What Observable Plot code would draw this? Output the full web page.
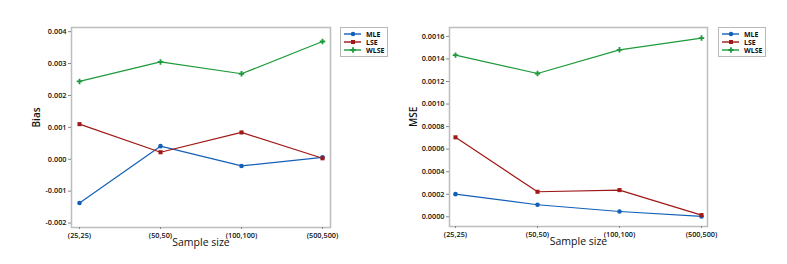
<!DOCTYPE html>
<html>
<head>
<meta charset="utf-8">
<script src="https://cdn.jsdelivr.net/npm/d3@7"></script>
<script src="https://cdn.jsdelivr.net/npm/@observablehq/plot@0.6"></script>
<style>
  html, body { margin: 0; padding: 0; background: #fff; }
  #wrap { position: relative; width: 787px; height: 264px; overflow: hidden; font-family: "Open Sans", "Noto Sans", sans-serif; }
  .panel { position: absolute; top: 0; }
  .legend { position: absolute; border: 1px solid #b8b8b8; background: #fff; }
</style>
</head>
<body>
<div id="wrap"></div>
<script>
const sizes = ["(25,25)", "(50,50)", "(100,100)", "(500,500)"];
const methods = ["MLE", "LSE", "WLSE"];
const colors = ["#1460b8", "#a01818", "#1d9a3a"];
const symbols = ["circle", "square", "cross"];

const biasMLE  = [-0.00137, 0.00041, -0.00021, 0.00006];
const biasLSE  = [0.00110, 0.00022, 0.00084, 0.00003];
const biasWLSE = [0.00244, 0.00305, 0.00268, 0.00369];

const mseMLE  = [0.000201, 0.000107, 0.000047, 0.000003];
const mseLSE  = [0.000705, 0.000222, 0.000237, 0.000015];
const mseWLSE = [0.001434, 0.001271, 0.001481, 0.001585];

const biasTicks = [-0.002, -0.001, 0, 0.001, 0.002, 0.003, 0.004];
const mseTicks = [0, 0.0002, 0.0004, 0.0006, 0.0008, 0.0010, 0.0012, 0.0014, 0.0016];

function table(series) {
  const rows = [];
  methods.forEach((m, i) => series[i].forEach((v, j) => rows.push({method: m, size: sizes[j], value: v})));
  return rows;
}

function panel({data, yLabel, ticks, digits, domain, width, ml, mr, mb, padding, labelX}) {
  const font = {fontSize: 7.3, fontWeight: 600};
  return Plot.plot({
    width, height: 264,
    marginLeft: ml, marginRight: mr, marginTop: 27, marginBottom: mb,
    style: {fontFamily: "'Open Sans', 'Noto Sans', sans-serif", color: "#111", background: "transparent"},
    x: {type: "point", domain: sizes, padding},
    y: {domain},
    color: {domain: methods, range: colors},
    symbol: {domain: methods, range: symbols},
    marks: [
      Plot.frame({stroke: "#bdbdbd", strokeWidth: 1.5}),
      Plot.axisY({ticks, tickSize: 3, tickPadding: 2, tickFormat: d => d.toFixed(digits), label: null, stroke: "#888", ...font}),
      Plot.axisX({tickSize: 2, tickPadding: 3, label: null, stroke: "#888", ...font}),
      Plot.line(data, {x: "size", y: "value", stroke: "method", z: "method", strokeWidth: 1.2}),
      Plot.dot(data, {x: "size", y: "value", fill: "method", symbol: "method", r: 2.3, stroke: "none"}),
      Plot.text([yLabel], {frameAnchor: "left", dx: -(ml - labelX), rotate: -90, fontSize: 10, fontWeight: 600, text: d => d}),
      Plot.text(["Sample size"], {frameAnchor: "bottom", dy: 18, fontSize: 10.5, fontWeight: 500, text: d => d})
    ]
  });
}

function legend(left) {
  const el = document.createElement("div");
  el.className = "legend";
  el.style.left = left + "px";
  el.style.top = "27px";
  el.style.width = "46px";
  el.style.height = "28px";
  const ns = "http://www.w3.org/2000/svg";
  const svg = document.createElementNS(ns, "svg");
  svg.setAttribute("width", 46); svg.setAttribute("height", 28);
  methods.forEach((m, i) => {
    const y = 6 + i * 8;
    const line = document.createElementNS(ns, "line");
    line.setAttribute("x1", 3); line.setAttribute("x2", 20);
    line.setAttribute("y1", y); line.setAttribute("y2", y);
    line.setAttribute("stroke", colors[i]); line.setAttribute("stroke-width", 1.4);
    svg.appendChild(line);
    const p = document.createElementNS(ns, "path");
    p.setAttribute("d", d3.symbol(d3["symbol" + symbols[i][0].toUpperCase() + symbols[i].slice(1)], 16)());
    p.setAttribute("transform", `translate(12,${y})`);
    p.setAttribute("fill", colors[i]);
    svg.appendChild(p);
    const t = document.createElementNS(ns, "text");
    t.setAttribute("x", 25); t.setAttribute("y", y + 2.5);
    t.setAttribute("font-size", 7); t.setAttribute("font-weight", 700);
    t.setAttribute("font-family", "'Open Sans', sans-serif");
    t.setAttribute("fill", "#111");
    t.textContent = m;
    svg.appendChild(t);
  });
  el.appendChild(svg);
  return el;
}

const wrap = document.getElementById("wrap");

const p1 = panel({
  data: table([biasMLE, biasLSE, biasWLSE]), yLabel: "Bias", ticks: biasTicks, digits: 3,
  domain: [-0.00214, 0.00413], width: 400, ml: 71, mr: 70, mb: 37, padding: 0.08, labelX: 36
});
const d1 = document.createElement("div"); d1.className = "panel"; d1.style.left = "0px"; d1.appendChild(p1);
wrap.appendChild(d1);

const p2 = panel({
  data: table([mseMLE, mseLSE, mseWLSE]), yLabel: "MSE", ticks: mseTicks, digits: 4,
  domain: [-0.000086, 0.001679], width: 387, ml: 49, mr: 80, mb: 38, padding: 0.07, labelX: 13
});
const d2 = document.createElement("div"); d2.className = "panel"; d2.style.left = "400px"; d2.appendChild(p2);
wrap.appendChild(d2);

wrap.appendChild(legend(340));
wrap.appendChild(legend(718));
</script>
</body>
</html>
